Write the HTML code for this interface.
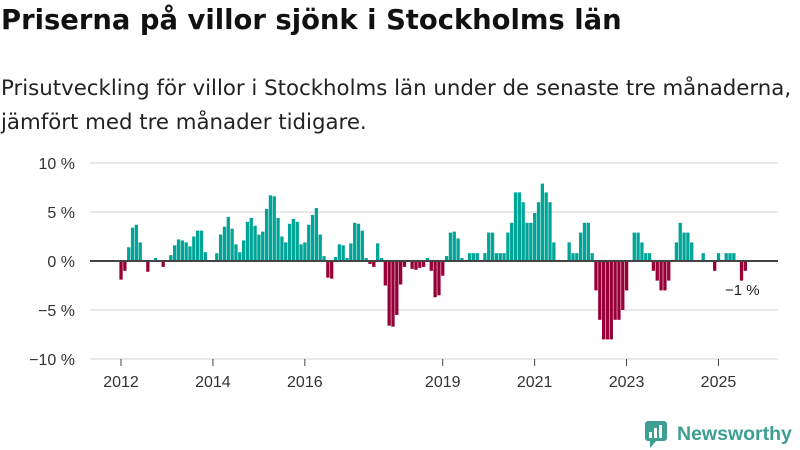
<!DOCTYPE html>
<html><head><meta charset="utf-8"><style>
body{margin:0;width:800px;height:450px;background:#fff;font-family:"Liberation Sans",sans-serif;overflow:hidden;position:relative}
h1{position:absolute;left:1px;top:5px;margin:0;font-family:"DejaVu Sans",sans-serif;font-size:27.4px;font-weight:bold;color:#111;white-space:nowrap}
.sub{position:absolute;left:1px;top:72px;margin:0;font-family:"DejaVu Sans",sans-serif;font-size:21.3px;line-height:34px;color:#222;white-space:nowrap}
svg{position:absolute;left:0;top:0}
</style></head><body>
<h1>Priserna på villor sjönk i Stockholms län</h1>
<p class="sub">Prisutveckling för villor i Stockholms län under de senaste tre månaderna,<br>jämfört med tre månader tidigare.</p>
<svg width="800" height="450">
<g id="grid"></g>
<g id="bars"></g>
<g id="xaxis"></g>
<line x1="90" x2="778" y1="261" y2="261" stroke="#444" stroke-width="2"/>
<text x="725" y="295" font-size="15" fill="#222">−1 %</text>
<g>
<rect x="645" y="421" width="22" height="20" rx="3" fill="#3d9e92"/>
<polygon points="650,441 656,441 650,448" fill="#3d9e92"/>
<rect x="649" y="432" width="3" height="6" fill="#fff"/><rect x="654" y="428" width="3" height="10" fill="#fff"/><rect x="659" y="425" width="3" height="13" fill="#fff"/>
<text x="677" y="440" font-size="19.5" font-weight="bold" fill="#3d9e92">Newsworthy</text>
</g>
</svg>
<script>
const startYear = 2012;
const yTicks = [10, 5, 0, -5, -10];
const yTickLabels = ["10 %", "5 %", "0 %", "−5 %", "−10 %"];
const xTickYears = [2012, 2014, 2016, 2019, 2021, 2023, 2025];
const values = [
-1.9,-1.0,1.4,3.4,3.7,1.9,0,-1.1,0,0.3,0,-0.6,
0,0.6,1.6,2.2,2.1,1.9,1.5,2.5,3.1,3.1,0.9,0,
0,0.8,2.7,3.5,4.5,3.3,1.7,0.9,2.1,4.0,4.4,3.6,
2.7,3.0,5.3,6.7,6.6,4.4,2.5,1.9,3.8,4.3,4.0,1.7,
1.9,3.7,4.7,5.4,2.7,0.5,-1.7,-1.8,0.4,1.7,1.6,0.3,
1.8,3.9,3.8,3.1,0.3,-0.3,-0.6,1.8,0.3,-2.5,-6.6,-6.7,
-5.5,-2.4,-0.6,0,-0.8,-0.9,-0.7,-0.6,0.3,-1.0,-3.7,-3.5,
-1.5,0.5,2.9,3.0,2.3,0.3,0,0.8,0.8,0.8,0,0.8,
2.9,2.9,0.8,0.8,0.8,2.9,3.9,7.0,7.0,6.0,3.9,3.9,
4.9,6.0,7.9,7.0,6.0,1.9,0,0,0,1.9,0.8,0.8,
2.9,3.9,3.9,0.8,-3.0,-6.0,-8.0,-8.0,-8.0,-6.0,-6.0,-5.0,
-3.0,0,2.9,2.9,1.9,0.8,0.8,-1.0,-2.0,-3.0,-3.0,-2.0,
0,1.9,3.9,2.9,2.9,1.9,0,0,0.8,0,0,-1.0,
0.8,0,0.8,0.8,0.8,0,-2.0,-1.0
];
const NS="http://www.w3.org/2000/svg";
const x0=121, pxPerMonth=3.83;
function xScale(m){return x0+m*pxPerMonth;}
function yScale(v){return 261-v*9.8;}
const grid=document.getElementById('grid');
yTicks.forEach((t,i)=>{
  if(t!==0){const l=document.createElementNS(NS,'line');
  l.setAttribute('x1',90);l.setAttribute('x2',778);l.setAttribute('y1',yScale(t));l.setAttribute('y2',yScale(t));
  l.setAttribute('stroke','#e2e2e2');l.setAttribute('stroke-width','1.5');
  
  
  grid.appendChild(l);}
  const tx=document.createElementNS(NS,'text');
  tx.setAttribute('x',75);tx.setAttribute('y',yScale(t)+6);tx.setAttribute('text-anchor','end');
  tx.setAttribute('font-size','16');tx.setAttribute('fill','#333');tx.textContent=yTickLabels[i];
  
  
  grid.appendChild(tx);
});
const bars=document.getElementById('bars');
values.forEach((v,m)=>{
  if(v===0)return;
  const r=document.createElementNS(NS,'rect');
  const y=Math.min(yScale(v),yScale(0));
  r.setAttribute('x',xScale(m)-1.6);r.setAttribute('width',3.3);
  r.setAttribute('y',y);r.setAttribute('height',Math.abs(yScale(v)-yScale(0)));
  r.setAttribute('fill',v>0?'#00a598':'#960036');
  
  
  bars.appendChild(r);
});
const xa=document.getElementById('xaxis');
xTickYears.forEach(yr=>{
  const x=xScale((yr-startYear)*12);
  const l=document.createElementNS(NS,'line');
  l.setAttribute('x1',x);l.setAttribute('x2',x);l.setAttribute('y1',359);l.setAttribute('y2',366);
  l.setAttribute('stroke','#444');
  
  
  xa.appendChild(l);
  const t=document.createElementNS(NS,'text');
  t.setAttribute('x',x);t.setAttribute('y',387);t.setAttribute('text-anchor','middle');
  t.setAttribute('font-size','16');t.setAttribute('fill','#333');t.textContent=yr;
  
  
  xa.appendChild(t);
});
</script>
</body></html>
